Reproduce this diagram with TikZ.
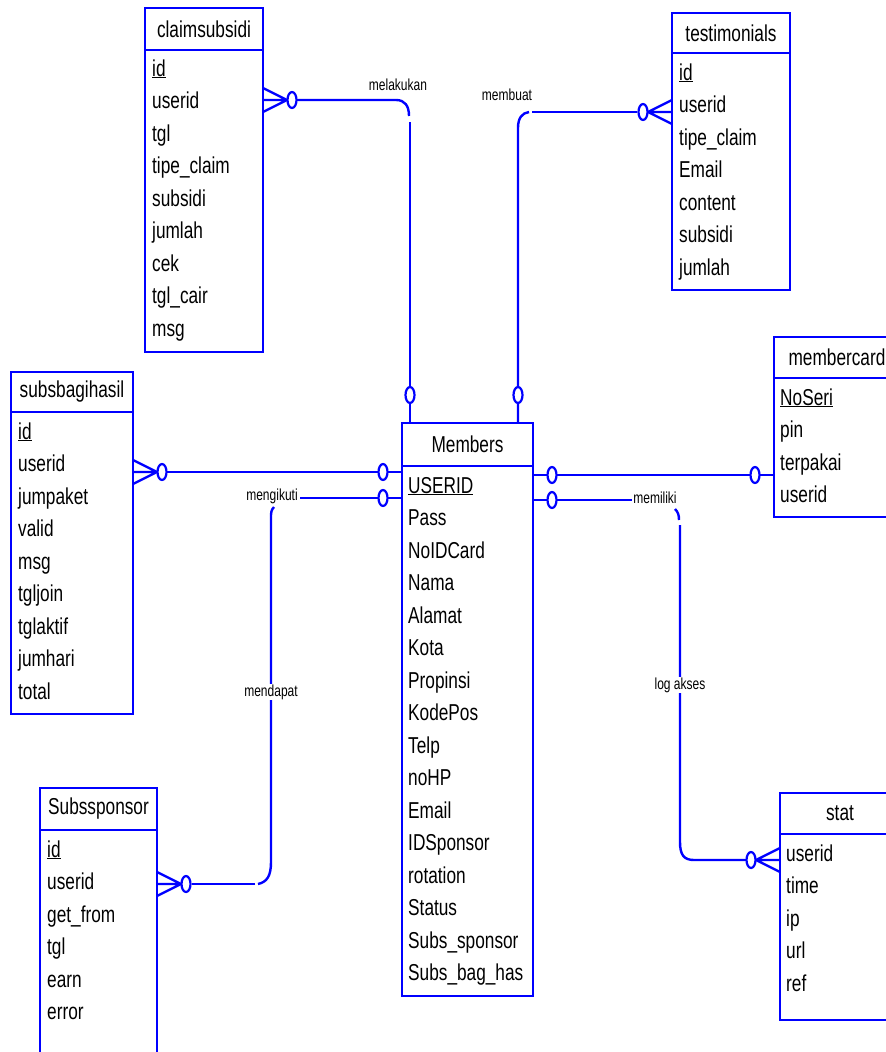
\documentclass[tikz,border=0pt]{standalone}
\usepackage{fontspec}
\setmainfont[FakeStretch=0.75]{Liberation Sans}
\definecolor{erblue}{RGB}{0,0,255}

% entity box: name, left, top, right, bottom, header bottom, title
\newcommand{\erentity}[7]{%
  \coordinate (#1-nw) at (#2,#3);
  \coordinate (#1-se) at (#4,#5);
  \draw[entline] (#1-nw) rectangle (#1-se);
  \draw[entline] (#2,#6) -- (#4,#6);
  \node[enttitle] (#1-title) at ({(#2+#4)/2},{(#3+#6)/2}) {#7};
}
% attribute list: name, text x, first baseline y, list
\newcommand{\erfields}[4]{%
  \foreach \f [count=\i] in {#4}
    \node[field] (#1-f\i) at (#2,{#3+32.5*(\i-1)}) {\f};
}
% zero-or-many end: edge x, y, direction (+1 right, -1 left)
\newcommand{\zeromany}[3]{%
  \draw[relline] ({#1},{#2-12}) -- ({#1+24*(#3)},{#2}) -- ({#1},{#2+12})
                 ({#1},{#2}) -- ({#1+24*(#3)},{#2});
  \draw[zero] ({#1+29*(#3)},{#2}) ellipse [x radius=4.5pt,y radius=8pt];
}
% zero-or-one circle
\newcommand{\zeroone}[2]{%
  \draw[zero] (#1,#2) ellipse [x radius=4.5pt,y radius=8pt];
}

\begin{document}
\begin{tikzpicture}[x=1pt,y=-1pt,
  entline/.style={draw=erblue,line width=2pt},
  relline/.style={draw=erblue,line width=2.4pt},
  zero/.style={draw=erblue,line width=2.2pt,fill=white},
  enttitle/.style={font=\fontsize{23}{23}\selectfont,inner sep=0pt},
  field/.style={font=\fontsize{23}{23}\selectfont,anchor=base west,inner sep=0pt},
  rellabel/.style={font=\fontsize{16}{16}\selectfont,fill=white,inner sep=1pt}]
\useasboundingbox (0,0) rectangle (886,1052);
\clip (0,0) rectangle (886,1052);
\fill[white] (0,0) rectangle (886,1052);

% ---------- relationships ----------
% claimsubsidi -- Members (melakukan)
\coordinate (r1a) at (297,100);
\coordinate (r1b) at (410,423);
\draw[relline] (r1a) -- (396,100) .. controls (405,100) and (409,106) .. (409,116);
\draw[relline] (410,122) -- (r1b);
\zeromany{263}{100}{1}
\zeroone{410}{395}
\node[rellabel] (lab-melakukan) at (398,85) {melakukan};

% testimonials -- Members (membuat)
\coordinate (r2a) at (637,112);
\coordinate (r2b) at (518,423);
\draw[relline] (r2a) -- (532,112);
\draw[relline] (529,112) .. controls (522,113) and (518,118) .. (518,128) -- (r2b);
\zeromany{672}{112}{-1}
\zeroone{518}{395}
\node[rellabel] (lab-membuat) at (507,95) {membuat};

% subsbagihasil -- Members
\coordinate (r3a) at (167,472);
\coordinate (r3b) at (402,472);
\draw[relline] (r3a) -- (r3b);
\zeromany{133}{472}{1}
\zeroone{383}{472}

% Subssponsor -- Members (mengikuti / mendapat)
\coordinate (r4a) at (402,498);
\coordinate (r4b) at (192,884);
\draw[relline] (r4a) -- (300,498);
\draw[relline] (274,507) .. controls (271,510) and (271,513) .. (271,518)
               -- (271,862) .. controls (271,876) and (267,882) .. (258,884);
\draw[relline] (255,884) -- (r4b);
\zeroone{383}{498}
\zeromany{157}{884}{1}
\node[rellabel,fill=none] (lab-mengikuti) at (272,496) {mengikuti};
\node[rellabel] (lab-mendapat) at (271,692) {mendapat};

% Members -- membercard
\coordinate (r5a) at (533,475);
\coordinate (r5b) at (774,475);
\draw[relline] (r5a) -- (r5b);
\zeroone{552}{475}
\zeroone{755}{475}

% Members -- stat (memiliki / log akses)
\coordinate (r6a) at (533,500);
\coordinate (r6b) at (747,860);
\draw[relline] (r6a) -- (632,500);
\draw[relline] (675,509) .. controls (678,512) and (679,515) .. (679,520);
\draw[relline] (680,525) -- (680,842) .. controls (680,855) and (684,860) .. (694,860) -- (r6b);
\zeroone{552}{500}
\zeromany{780}{860}{-1}
\node[rellabel,fill=none] (lab-memiliki) at (655,498) {memiliki};
\node[rellabel] (lab-logakses) at (680,685) {log akses};

% ---------- entities ----------
\erentity{claimsubsidi}{145}{8}{263}{352}{50}{claimsubsidi}
\erfields{claimsubsidi}{152}{76}{\underline{id},userid,tgl,tipe\_claim,subsidi,jumlah,cek,tgl\_cair,msg}

\erentity{testimonials}{672}{13}{790}{290}{53}{testimonials}
\erfields{testimonials}{679}{80}{\underline{id},userid,tipe\_claim,Email,content,subsidi,jumlah}

\erentity{membercard}{774}{337}{900}{517}{378}{membercard}
\erfields{membercard}{780}{405}{\underline{NoSeri},pin,terpakai,userid}

\erentity{subsbagihasil}{11}{372}{133}{714}{412}{subsbagihasil}
\erfields{subsbagihasil}{18}{439}{\underline{id},userid,jumpaket,valid,msg,tgljoin,tglaktif,jumhari,total}

\erentity{members}{402}{423}{533}{996}{466}{Members}
\erfields{members}{408}{493}{\underline{USERID},Pass,NoIDCard,Nama,Alamat,Kota,Propinsi,KodePos,Telp,noHP,Email,IDSponsor,rotation,Status,Subs\_sponsor,Subs\_bag\_has}

\erentity{subssponsor}{40}{788}{157}{1070}{830}{Subssponsor}
\erfields{subssponsor}{47}{857}{\underline{id},userid,get\_from,tgl,earn,error}

\erentity{stat}{780}{793}{900}{1020}{834}{stat}
\erfields{stat}{786}{861}{userid,time,ip,url,ref}
\end{tikzpicture}
\end{document}
